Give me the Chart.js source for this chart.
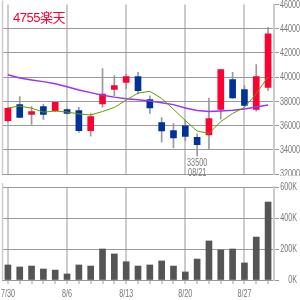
<!DOCTYPE html>
<html>
<head>
<meta charset="utf-8">
<script src="https://cdn.jsdelivr.net/npm/chart.js@4"></script>
<style>
  html, body { margin: 0; padding: 0; background: #fff; }
  #wrap { position: relative; width: 300px; height: 300px; overflow: hidden; }
  #priceBox { position: absolute; left: 0; top: 0; width: 300px; height: 176px; }
  #volBox { position: absolute; left: 0; top: 180px; width: 300px; height: 120px; }
  #title { position: absolute; left: 13px; top: 7px; color: #ff0033;
           font: 13px 'Liberation Sans', 'Noto Sans CJK JP', sans-serif; letter-spacing: -0.5px; }
</style>
</head>
<body>
<div id="wrap">
  <div id="priceBox"><canvas id="priceChart"></canvas></div>
  <div id="volBox"><canvas id="volChart"></canvas></div>
  <div id="title">4755楽天</div>
</div>
<script>
// Daily data, 7/30 - 8/29
const dates = ['7/30','7/31','8/1','8/2','8/3','8/6','8/7','8/8','8/9','8/10','8/13','8/14',
               '8/15','8/16','8/17','8/20','8/21','8/22','8/23','8/24','8/27','8/28','8/29'];
const dateTicks = ['7/30','8/6','8/13','8/20','8/27'];

const opens  = [36400,37730,36930,37560,37230,37320,37230,35580,37790,38990,39570,40040,
                38140,36240,35580,35970,35030,35230,37340,39790,38970,37340,39160];
const closes = [37420,36680,37150,36930,37920,37010,35580,36740,38610,39300,40040,38890,
                37460,35560,34980,35110,34420,36570,40620,38280,37670,40040,43570];
const highs  = [37500,38390,37560,37770,37950,37400,37510,36990,40700,40120,40250,40400,
                38450,36660,36160,36410,35310,38280,40650,40400,39300,41030,44110];
const lows   = [36250,36650,36100,36510,37150,36950,35440,35130,37510,38470,39050,38610,
                37010,34650,34150,34760,33500,34070,36550,38250,37600,37180,38890];

// moving averages (short / long)
const maShort = [37460,37600,37440,37110,37200,37120,36960,36880,37160,37500,38100,38680,
                 38830,38240,37350,36420,35550,35350,36330,37000,37500,38630,40030];
const maLong  = [40200,39930,39770,39630,39460,39200,38930,38720,38510,38350,38220,38140,
                 38030,37890,37730,37450,37250,37170,37210,37270,37370,37540,37700];

const volumes = [97000,84000,90000,71000,64000,39000,97000,90000,200000,168000,118000,90000,
                 97000,123000,90000,52000,135000,252000,194000,200000,110000,277000,503000];

const priceTicks = [32000,34000,36000,38000,40000,42000,44000,46000];
const volTicks = [0,200000,400000,600000];
const lowDate = '08/21';

const UP = '#ff0033', DOWN = '#003399';
const TEXT = '#777777';

const isMonday = i => dateTicks.includes(dates[i]);

// labels in the reference are a narrow face, so squeeze them a bit
function narrowText(c, text, x, y, align) {
    c.save();
    c.translate(x, y);
    c.scale(0.72, 1);
    c.font = "10px 'Liberation Sans', Arial, sans-serif";
    c.fillStyle = TEXT;
    c.textAlign = align;
    c.textBaseline = 'middle';
    c.fillText(text, 0, 0);
    c.restore();
}

// light border on the left edge of each panel
const leftEdge = {
    id: 'leftEdge',
    beforeDatasetsDraw(chart) {
        const a = chart.chartArea, c = chart.ctx;
        c.save();
        c.strokeStyle = '#cccccc';
        c.lineWidth = 1.5;
        c.beginPath();
        c.moveTo(a.left + 0.5, a.top - 4);
        c.lineTo(a.left + 0.5, a.bottom);
        c.stroke();
        c.restore();
    }
};

const priceLabels = {
    id: 'priceLabels',
    afterDraw(chart) {
        const y = chart.scales.y, x = chart.scales.x, c = chart.ctx;
        priceTicks.forEach(v => narrowText(c, String(v), 280, y.getPixelForValue(v) + 0.5, 'left'));
        // note under the lowest low
        const i = lows.indexOf(Math.min(...lows));
        const px = x.getPixelForValue(i);
        const py = y.getPixelForValue(lows[i]);
        narrowText(c, String(lows[i]), px, py + 7, 'center');
        narrowText(c, lowDate, px, py + 17, 'center');
    }
};

const volLabels = {
    id: 'volLabels',
    afterDraw(chart) {
        const y = chart.scales.y, x = chart.scales.x, c = chart.ctx;
        volTicks.forEach(v => narrowText(c, (v / 1000) + 'K', 297, y.getPixelForValue(v) + 0.5, 'right'));
        dates.forEach((d, i) => {
            if (isMonday(i)) narrowText(c, d, x.getPixelForValue(i), chart.chartArea.bottom + 14.5, 'center');
        });
    }
};

const xGrid = {
    offset: false,
    color: ctx => isMonday(ctx.index) ? '#cccccc' : 'rgba(0,0,0,0)',
    lineWidth: 2
};

new Chart(document.getElementById('priceChart'), {
    type: 'bar',
    data: {
        labels: dates,
        datasets: [
            {
                type: 'line', data: maShort, borderColor: '#669900', borderWidth: 1,
                pointRadius: 0, tension: 0, order: 0
            },
            {
                type: 'line', data: maLong, borderColor: '#9933ff', borderWidth: 1.5,
                pointRadius: 0, tension: 0, order: 0
            },
            {
                data: opens.map((o, i) => [o, closes[i]]),
                backgroundColor: opens.map((o, i) => closes[i] >= o ? UP : DOWN),
                barThickness: 6, grouped: false, order: 1
            },
            {
                data: lows.map((l, i) => [l, highs[i]]),
                backgroundColor: '#999999',
                barThickness: 1, grouped: false, order: 2
            }
        ]
    },
    options: {
        responsive: true,
        maintainAspectRatio: false,
        animation: false,
        layout: { padding: { left: 2, top: 4.5, right: 0, bottom: 2 } },
        scales: {
            x: {
                ticks: { display: false },
                grid: { ...xGrid, drawTicks: false },
                border: { display: false }
            },
            y: {
                position: 'right',
                min: 32000,
                max: 46000,
                afterBuildTicks: axis => { axis.ticks = priceTicks.map(v => ({ value: v })); },
                afterFit: axis => { axis.width = 26; },
                ticks: { display: false },
                grid: {
                    color: ctx => ctx.tick && ctx.tick.value === 46000 ? 'rgba(0,0,0,0)' : '#999999',
                    tickColor: '#999999',
                    tickLength: 5
                },
                border: { color: '#cccccc', width: 2 }
            }
        },
        plugins: { legend: { display: false }, tooltip: { enabled: false } }
    },
    plugins: [leftEdge, priceLabels]
});

new Chart(document.getElementById('volChart'), {
    type: 'bar',
    data: {
        labels: dates,
        datasets: [{
            data: volumes,
            backgroundColor: '#555555',
            barThickness: 6
        }]
    },
    options: {
        responsive: true,
        maintainAspectRatio: false,
        animation: false,
        layout: { padding: { left: 2, top: 7, right: 0, bottom: 16 } },
        scales: {
            x: {
                ticks: { display: false },
                grid: { ...xGrid, tickColor: '#999999', tickWidth: 1, tickLength: 4 },
                border: { display: false }
            },
            y: {
                position: 'right',
                min: 0,
                max: 600000,
                afterBuildTicks: axis => { axis.ticks = volTicks.map(v => ({ value: v })); },
                afterFit: axis => { axis.width = 26; },
                ticks: { display: false },
                grid: { color: '#999999', tickColor: '#999999', tickLength: 5 },
                border: { color: '#cccccc', width: 2 }
            }
        },
        plugins: { legend: { display: false }, tooltip: { enabled: false } }
    },
    plugins: [leftEdge, volLabels]
});
</script>
</body>
</html>
